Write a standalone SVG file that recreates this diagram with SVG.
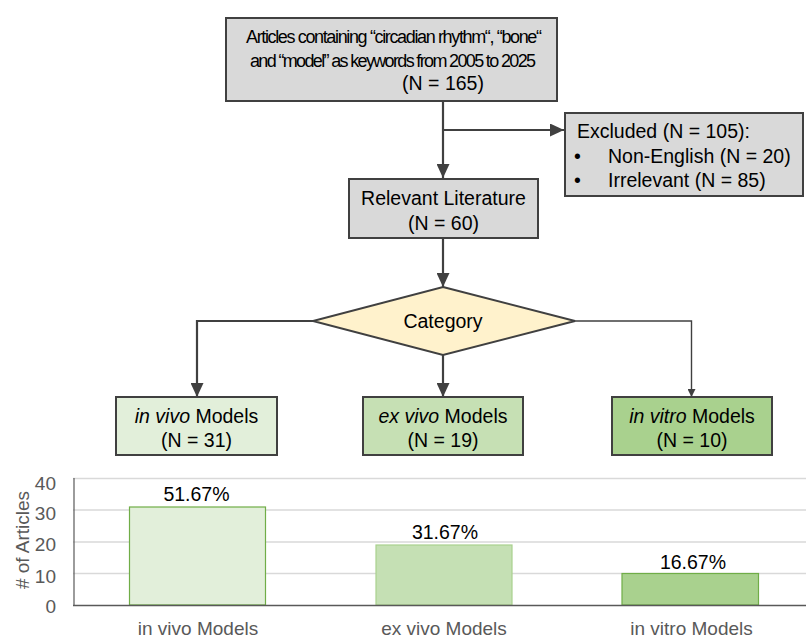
<svg xmlns="http://www.w3.org/2000/svg" width="806" height="637" viewBox="0 0 806 637">
<defs>
<marker id="arr" viewBox="0 0 14 13" refX="14" refY="6.5" markerWidth="14" markerHeight="13" orient="auto" markerUnits="userSpaceOnUse">
<path d="M0,0 L14,6.5 L0,13 z" fill="#404040"/>
</marker>
<marker id="arrS" viewBox="0 0 8 8" refX="8" refY="4" markerWidth="8" markerHeight="8" orient="auto" markerUnits="userSpaceOnUse">
<path d="M0,0 L8,4 L0,8 z" fill="#404040"/>
</marker>
<style>
.box{stroke:#404040;stroke-width:2}
.gray{fill:#d9d9d9}
.t{font-family:"Liberation Sans",Arial,sans-serif;font-size:19.5px;fill:#000}
.c{text-anchor:middle}
.conn{fill:none;stroke:#404040;stroke-width:2.2}
.grid{stroke:#d9d9d9;stroke-width:1.5}
.ax{font-family:"Liberation Sans",Arial,sans-serif;font-size:19px;fill:#595959}
.tight{font-size:18px}
</style>
</defs>
<rect width="806" height="637" fill="#fff"/>
<g id="connectors">
<path class="conn" d="M443,102 V178" marker-end="url(#arr)"/>
<path class="conn" d="M443,130 H564" marker-end="url(#arr)"/>
<path class="conn" d="M443,238 V287" marker-end="url(#arr)"/>
<path class="conn" d="M313,321 H197 V397" marker-end="url(#arr)"/>
<path class="conn" d="M443,355 V397" marker-end="url(#arr)"/>
<path class="conn" d="M575,321 H691.5 V397" marker-end="url(#arrS)" style="stroke-width:1.4"/>
</g>
<g id="start">
<rect class="box gray" x="226" y="18" width="331" height="83"/>
<text class="t tight" x="246" y="43" textLength="296" lengthAdjust="spacing">Articles containing “circadian rhythm“, “bone“</text>
<text class="t tight" x="250" y="66.5" textLength="286" lengthAdjust="spacing">and “model” as keywords from 2005 to 2025</text>
<text class="t c" x="443" y="90">(N = 165)</text>
</g>
<g id="excluded">
<rect class="box gray" x="565" y="113" width="238" height="83"/>
<text class="t" x="577" y="138">Excluded (N = 105):</text>
<text class="t" x="574" y="163">•</text>
<text class="t" x="608" y="163">Non-English (N = 20)</text>
<text class="t" x="574" y="187">•</text>
<text class="t" x="608" y="187">Irrelevant (N = 85)</text>
</g>
<g id="relevant">
<rect class="box gray" x="349" y="179" width="189" height="59"/>
<text class="t c" x="443.5" y="205">Relevant Literature</text>
<text class="t c" x="443.5" y="230">(N = 60)</text>
</g>
<g id="category">
<polygon class="box" fill="#fff2cc" points="443,287 575,321 443,355 313,321"/>
<text class="t c" x="443" y="328">Category</text>
</g>
<g id="invivo">
<rect class="box" fill="#e2efda" x="116" y="397" width="161" height="58"/>
<text class="t c" x="196.5" y="423"><tspan font-style="italic">in vivo</tspan> Models</text>
<text class="t c" x="196.5" y="447">(N = 31)</text>
</g>
<g id="exvivo">
<rect class="box" fill="#c6e0b4" x="363" y="397" width="160" height="58"/>
<text class="t c" x="443" y="423"><tspan font-style="italic">ex vivo</tspan> Models</text>
<text class="t c" x="443" y="447">(N = 19)</text>
</g>
<g id="invitro">
<rect class="box" fill="#a9d18e" x="612" y="397" width="160" height="58"/>
<text class="t c" x="692" y="423"><tspan font-style="italic">in vitro</tspan> Models</text>
<text class="t c" x="692" y="447">(N = 10)</text>
</g>
<g id="chart">
<line class="grid" x1="73" y1="478.5" x2="806" y2="478.5"/>
<line class="grid" x1="73" y1="510" x2="806" y2="510"/>
<line class="grid" x1="73" y1="542" x2="806" y2="542"/>
<line class="grid" x1="73" y1="573.5" x2="806" y2="573.5"/>
<line x1="74" y1="478" x2="74" y2="605" stroke="#595959" stroke-width="1.2"/>
<rect x="129.5" y="507" width="136" height="98" fill="#e2efda" stroke="#70ad47" stroke-width="1.2"/>
<rect x="376" y="545" width="136" height="60" fill="#c5e0b4" stroke="#a9d18e" stroke-width="1.2"/>
<rect x="622" y="573.5" width="136.5" height="31.5" fill="#a9d18e" stroke="#70ad47" stroke-width="1.2"/>
<line x1="73" y1="605.5" x2="806" y2="605.5" stroke="#595959" stroke-width="1.5"/>
<text class="ax" x="56" y="490" text-anchor="end">40</text>
<text class="ax" x="56" y="520" text-anchor="end">30</text>
<text class="ax" x="56" y="551" text-anchor="end">20</text>
<text class="ax" x="56" y="583" text-anchor="end">10</text>
<text class="ax" x="56" y="613" text-anchor="end">0</text>
<text class="ax c" transform="translate(29,540) rotate(-90)"># of Articles</text>
<text class="t c" x="196.5" y="500.5">51.67%</text>
<text class="t c" x="445" y="539">31.67%</text>
<text class="t c" x="693" y="569">16.67%</text>
<text class="ax c" x="198" y="635">in vivo Models</text>
<text class="ax c" x="444" y="635">ex vivo Models</text>
<text class="ax c" x="691.5" y="635">in vitro Models</text>
</g>
</svg>
